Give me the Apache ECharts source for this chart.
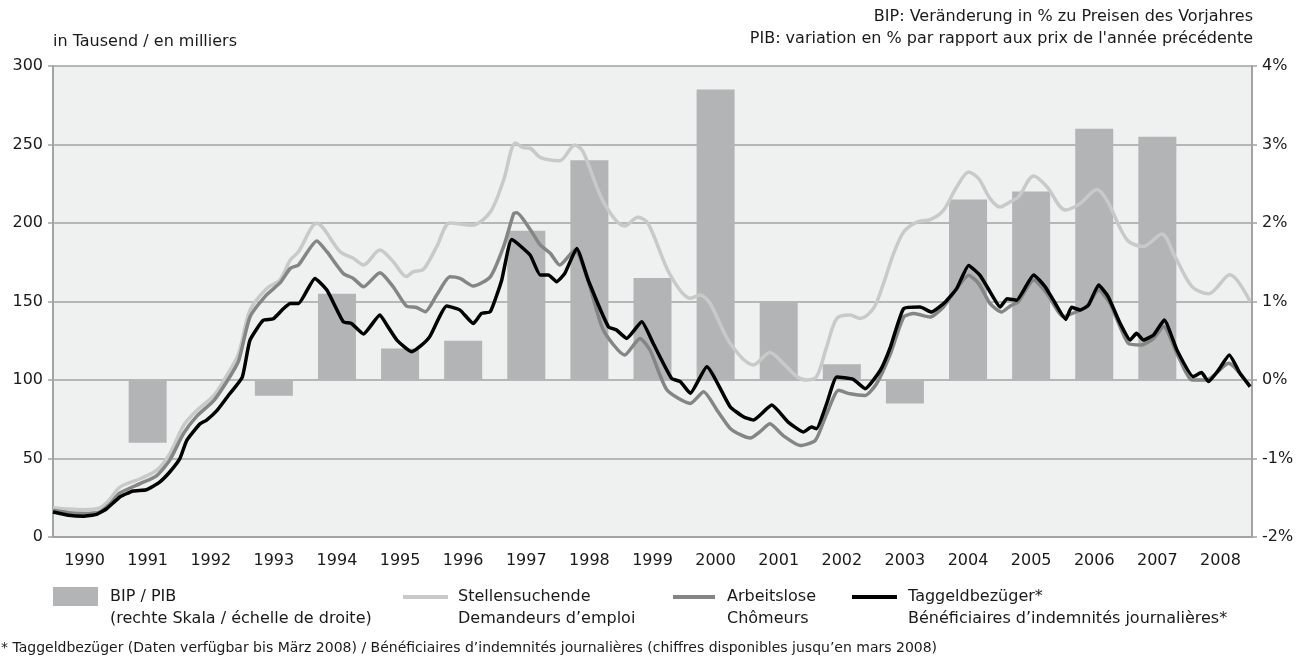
<!DOCTYPE html>
<html>
<head>
<meta charset="utf-8">
<script src="https://cdn.jsdelivr.net/npm/echarts@6/dist/echarts.min.js"></script>
<style>
  html, body { margin: 0; padding: 0; background: #fff; }
  #chart { width: 1314px; height: 661px; }
</style>
</head>
<body>
<div id="chart"></div>
<script>
// Jahre / années
var years = ['1990','1991','1992','1993','1994','1995','1996','1997','1998','1999',
             '2000','2001','2002','2003','2004','2005','2006','2007','2008'];

// BIP in % (rechte Skala)
var bip = [null, -0.8, null, -0.2, 1.1, 0.4, 0.5, 1.9, 2.8, 1.3,
           3.7, 1.0, 0.2, -0.3, 2.3, 2.4, 3.2, 3.1, null];

// [Jahr, Tausend]
var stellensuchende = [
  [1990.0,18.7],[1990.25,17.8],[1990.48,17.4],[1990.74,18.5],[1990.9,24],[1991.06,31.8],
  [1991.38,37.1],[1991.64,42.4],[1991.85,53],[1992.07,71],[1992.28,80.6],[1992.55,90.2],
  [1992.77,104],[1992.94,116.7],[1993.12,144.3],[1993.38,158],[1993.6,164],[1993.76,176.4],
  [1993.89,181.7],[1994.18,199.8],[1994.55,181.7],[1994.76,177.5],[1994.92,173.3],[1995.18,182.8],
  [1995.39,175.4],[1995.6,165.9],[1995.71,169],[1995.87,170.5],[1996.08,184.9],[1996.29,200],
  [1996.64,198.6],[1996.93,207],[1997.14,227.3],[1997.33,251],[1997.45,248],[1997.56,247.6],
  [1997.72,241.8],[1998.03,239.7],[1998.27,249.7],[1998.4,245.4],[1998.72,213.6],[1999.06,198.1],
  [1999.27,203.6],[1999.43,199.8],[1999.78,166.9],[2000.1,152],[2000.25,154.1],[2000.41,148.9],
  [2000.73,123.4],[2001.1,109.6],[2001.36,117.5],[2001.57,110.6],[2001.79,102.1],[2001.94,100],
  [2002.1,102.1],[2002.26,121.2],[2002.42,139.2],[2002.63,141.4],[2002.79,139.2],[2003.0,145.5],
  [2003.16,161.4],[2003.32,180.5],[2003.48,194.3],[2003.69,200.6],[2003.9,202.1],[2004.11,208],
  [2004.32,222.9],[2004.51,232.5],[2004.67,228.2],[2004.85,215.5],[2005.01,210.2],[2005.17,213.5],
  [2005.3,216.6],[2005.54,229.9],[2005.75,223.1],[2006.04,208.3],[2006.28,212.5],[2006.54,221.4],
  [2006.7,214.6],[2007.02,189.2],[2007.28,185],[2007.57,193],[2007.78,178.6],[2008.05,159.5],
  [2008.31,154.9],[2008.65,167],[2008.97,150]
];

var arbeitslose = [
  [1990.0,17],[1990.25,15.5],[1990.48,15],[1990.74,16],[1990.9,21],[1991.06,28],
  [1991.38,34],[1991.64,39],[1991.85,49],[1992.07,66],[1992.28,77],[1992.55,87],
  [1992.77,100],[1992.94,112],[1993.12,140],[1993.38,154],[1993.6,162],[1993.76,171.1],
  [1993.89,173.3],[1994.18,188.6],[1994.34,181.7],[1994.6,167.9],[1994.76,164.7],[1994.92,159.4],
  [1995.18,168.3],[1995.39,159.4],[1995.6,147.1],[1995.76,146.2],[1995.9,143.5],[1996.08,154.1],
  [1996.29,165.7],[1996.45,164.7],[1996.66,159.8],[1996.93,165.7],[1997.14,184.9],[1997.3,206],
  [1997.35,206.6],[1997.56,196],[1997.72,186],[1997.88,180.7],[1998.03,173.2],[1998.27,182.8],
  [1998.46,165.8],[1998.72,131.8],[1999.06,115.9],[1999.3,126.5],[1999.46,119.1],[1999.73,93.6],
  [2000.1,85.1],[2000.31,92.5],[2000.52,80.9],[2000.73,69.2],[2000.9,65],[2001.05,63],
  [2001.2,67],[2001.36,72.1],[2001.57,64.6],[2001.84,58.3],[2002.08,61.5],[2002.26,78.5],
  [2002.45,93.4],[2002.63,91.2],[2002.87,90.2],[2003.05,97.6],[2003.27,116.7],[2003.48,140.1],
  [2003.64,142.3],[2003.9,140.1],[2004.11,146.5],[2004.32,158.2],[2004.51,166.7],[2004.67,161.4],
  [2004.85,148.6],[2005.03,143.3],[2005.17,147.2],[2005.3,150],[2005.54,163.7],[2005.75,155.2],
  [2006.01,140.4],[2006.22,143.5],[2006.38,146.7],[2006.57,157.3],[2006.75,148.8],[2007.04,123.3],
  [2007.25,122.3],[2007.44,126.5],[2007.6,134],[2007.81,117],[2008.05,100],[2008.28,100],
  [2008.63,110.6],[2008.97,95.8]
];

var taggeld = [
  [1990.0,15.9],[1990.25,13.8],[1990.48,13.2],[1990.69,14.4],[1990.85,18],[1991.06,25.5],
  [1991.27,29.3],[1991.48,30.1],[1991.69,35],[1991.85,41.4],[1992.01,49.9],[1992.12,61.5],
  [1992.33,72.1],[1992.43,74.3],[1992.6,80.6],[1992.8,91.2],[1993.0,101.9],[1993.12,125.2],
  [1993.33,138],[1993.49,139],[1993.65,145.4],[1993.76,148.8],[1993.89,148.8],[1994.15,164.7],
  [1994.34,157.3],[1994.6,137.1],[1994.73,136],[1994.92,129.3],[1995.18,141.4],[1995.29,135],
  [1995.45,125.4],[1995.68,118],[1995.84,122.2],[1995.97,127.6],[1996.24,147.1],[1996.45,144.5],
  [1996.66,136],[1996.79,142.4],[1996.93,143.5],[1997.11,163.6],[1997.27,189.5],[1997.56,179.6],
  [1997.72,166.9],[1997.85,166.9],[1997.98,162.6],[1998.11,167.9],[1998.3,183.8],[1998.48,163.7],
  [1998.8,134],[1998.93,131.8],[1999.09,126.5],[1999.33,137.1],[1999.51,123.4],[1999.8,101.1],
  [1999.94,99],[2000.1,91.6],[2000.36,108.5],[2000.73,83],[2000.94,76.6],[2001.1,74.5],
  [2001.39,84],[2001.65,73.2],[2001.89,66.9],[2002.02,70],[2002.1,69],[2002.26,84.9],
  [2002.42,101.9],[2002.68,100.4],[2002.87,94.5],[2003.11,106.2],[2003.27,121],[2003.48,145.5],
  [2003.74,146.5],[2003.92,143.3],[2004.14,149.7],[2004.32,158.2],[2004.51,173],[2004.69,166.7],
  [2004.85,156.1],[2005.01,146.5],[2005.12,151.8],[2005.27,150.8],[2005.54,166.9],[2005.72,159.5],
  [2005.85,151],[2006.05,138.6],[2006.14,146.3],[2006.28,144.6],[2006.41,147.8],[2006.57,160.5],
  [2006.72,153.1],[2006.91,136.1],[2007.07,125.5],[2007.17,129.7],[2007.28,125.5],[2007.44,128.7],
  [2007.61,138.2],[2007.81,119.1],[2008.07,102.1],[2008.2,104.7],[2008.31,99],[2008.47,106.4],
  [2008.64,115.9],[2008.81,104.2],[2008.97,95.8]
];

var FONT = '"DejaVu Sans", "Noto Sans", sans-serif';
var TXT = '#1a1a1a';
var AXIS = '#a3a3a3';

var myChart = echarts.init(document.getElementById('chart'));

myChart.setOption({
  animation: false,
  backgroundColor: '#fff',
  textStyle: { fontFamily: FONT },
  grid: {
    left: 53, right: 62, top: 66, bottom: 124,
    show: true, backgroundColor: '#eff0f0', borderWidth: 0
  },
  xAxis: [{
    type: 'category',
    data: years,
    boundaryGap: true,
    axisLine: { lineStyle: { color: AXIS, width: 2 } },
    axisTick: { show: false },
    axisLabel: { color: TXT, fontSize: 16, margin: 16, fontFamily: FONT }
  }, {
    type: 'value',
    min: 1990, max: 2009,
    show: false
  }],
  yAxis: [{
    type: 'value',
    min: 0, max: 300, interval: 50,
    axisLine: { show: true, lineStyle: { color: AXIS, width: 2 } },
    axisTick: { show: true, length: 5, lineStyle: { color: AXIS, width: 1.5 } },
    axisLabel: { color: TXT, fontSize: 16, margin: 10, fontFamily: FONT },
    splitLine: { lineStyle: { color: AXIS, width: 1.5 } }
  }, {
    type: 'value',
    min: -2, max: 4, interval: 1,
    position: 'right',
    axisLine: { show: true, lineStyle: { color: AXIS, width: 2 } },
    axisTick: { show: true, length: 5, lineStyle: { color: AXIS, width: 1.5 } },
    axisLabel: { color: TXT, fontSize: 16, margin: 10, formatter: '{value}%', fontFamily: FONT },
    splitLine: { show: false }
  }],
  series: [{
    name: 'BIP / PIB',
    type: 'bar',
    xAxisIndex: 0, yAxisIndex: 1,
    data: bip,
    barWidth: 38,
    itemStyle: { color: '#b3b4b5' },
    z: 1
  }, {
    name: 'Stellensuchende',
    type: 'line',
    xAxisIndex: 1, yAxisIndex: 0,
    data: stellensuchende,
    showSymbol: false,
    smooth: 0.3,
    lineStyle: { color: '#c9c9c9', width: 3.5 },
    z: 3
  }, {
    name: 'Arbeitslose',
    type: 'line',
    xAxisIndex: 1, yAxisIndex: 0,
    data: arbeitslose,
    showSymbol: false,
    smooth: 0.2,
    lineStyle: { color: '#858585', width: 3.5 },
    z: 4
  }, {
    name: 'Taggeldbezüger',
    type: 'line',
    xAxisIndex: 1, yAxisIndex: 0,
    data: taggeld,
    showSymbol: false,
    smooth: 0.15,
    lineStyle: { color: '#000', width: 3.5 },
    z: 5
  }],
  graphic: [
    { type: 'text', left: 53, top: 34,
      style: { text: 'in Tausend / en milliers', fill: TXT, font: '16px ' + FONT } },
    { type: 'text', right: 61, top: 9,
      style: { text: 'BIP: Veränderung in % zu Preisen des Vorjahres', fill: TXT, font: '16px ' + FONT, textAlign: 'right' } },
    { type: 'text', right: 61, top: 31,
      style: { text: "PIB: variation en % par rapport aux prix de l'année précédente", fill: TXT, font: '16px ' + FONT, textAlign: 'right' } },

    // Legende
    { type: 'rect', shape: { x: 53, y: 587, width: 45, height: 19 }, style: { fill: '#b3b4b5' } },
    { type: 'text', left: 110, top: 586,
      style: { text: 'BIP / PIB\n(rechte Skala / échelle de droite)', fill: TXT, font: '16px ' + FONT, lineHeight: 22 } },

    { type: 'line', shape: { x1: 403, y1: 597, x2: 448, y2: 597 }, style: { stroke: '#c9c9c9', lineWidth: 4 } },
    { type: 'text', left: 458, top: 586,
      style: { text: 'Stellensuchende\nDemandeurs d’emploi', fill: TXT, font: '16px ' + FONT, lineHeight: 22 } },

    { type: 'line', shape: { x1: 673, y1: 597, x2: 715, y2: 597 }, style: { stroke: '#858585', lineWidth: 4 } },
    { type: 'text', left: 727, top: 586,
      style: { text: 'Arbeitslose\nChômeurs', fill: TXT, font: '16px ' + FONT, lineHeight: 22 } },

    { type: 'line', shape: { x1: 852, y1: 597, x2: 897, y2: 597 }, style: { stroke: '#000', lineWidth: 4 } },
    { type: 'text', left: 908, top: 586,
      style: { text: 'Taggeldbezüger*\nBénéficiaires d’indemnités journalières*', fill: TXT, font: '16px ' + FONT, lineHeight: 22 } },

    { type: 'text', left: 1, top: 641,
      style: { text: '* Taggeldbezüger (Daten verfügbar bis März 2008) / Bénéficiaires d’indemnités journalières (chiffres disponibles jusqu’en mars 2008)', fill: TXT, font: '14px ' + FONT } }
  ]
});
</script>
</body>
</html>
